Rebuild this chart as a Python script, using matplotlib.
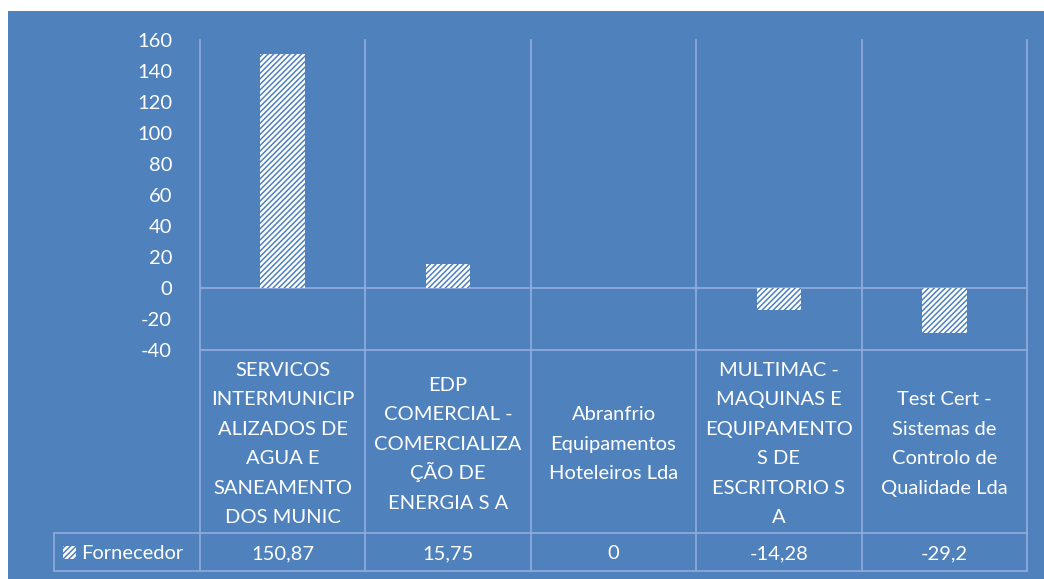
import matplotlib.pyplot as plt
from matplotlib.patches import Rectangle
from matplotlib.transforms import blended_transform_factory

categories = [
    "SERVICOS\nINTERMUNICIP\nALIZADOS DE\nAGUA E\nSANEAMENTO\nDOS MUNIC",
    "EDP\nCOMERCIAL -\nCOMERCIALIZA\nÇÃO DE\nENERGIA S A",
    "Abranfrio\nEquipamentos\nHoteleiros Lda",
    "MULTIMAC -\nMAQUINAS E\nEQUIPAMENTO\nS DE\nESCRITORIO S\nA",
    "Test Cert -\nSistemas de\nControlo de\nQualidade Lda",
]
values = [150.87, 15.75, 0, -14.28, -29.2]
series_name = "Fornecedor"
yticks = list(range(-40, 161, 20))

BG = "#4F81BD"
GRID = "#8EA9DB"
W, H = 1044, 579

plt.rcParams['font.family'] = ['Lato', 'DejaVu Sans']
plt.rcParams['hatch.linewidth'] = 1.1
plt.rcParams['hatch.color'] = BG

fig = plt.figure(figsize=(W / 100, H / 100), dpi=100, facecolor="white")
fig.patches.append(Rectangle((8 / W, 0), 1 - 8 / W, 1 - 11 / H, transform=fig.transFigure,
                             facecolor=BG, edgecolor="none", zorder=-10))

ax = fig.add_axes([200 / W, 1 - 350 / H, 827 / W, 310 / H])
ax.set_zorder(5)
ax.patch.set_alpha(0)
x = list(range(len(values)))
ax.bar(x, values, width=0.27, facecolor="white", edgecolor=BG, hatch="//////", linewidth=0, zorder=3)
ax.set_xlim(-0.5, len(values) - 0.5)
ax.set_ylim(-40, 160)
ax.set_yticks(yticks)
ax.set_yticklabels([str(t) for t in yticks], color="white", fontsize=14.5)
ax.tick_params(axis="y", length=0, pad=20)
ax.set_xticks([])
for s in ax.spines.values():
    s.set_visible(False)
ax.axhline(0, color=GRID, lw=1.3, zorder=2)

trans = blended_transform_factory(ax.transData, ax.transAxes)
px = 1 / 310
y_cat_bot = -183 * px
y_row_bot = -221 * px
x_left = (54 - 200) / 165.4 - 0.5

# vertical grid lines through plot and table
for b in [i - 0.5 for i in range(len(values) + 1)]:
    ax.plot([b, b], [y_row_bot, 1], transform=trans, color=GRID, lw=1.3, clip_on=False, zorder=1)
ax.plot([x_left, x_left], [y_row_bot, y_cat_bot], transform=trans, color=GRID, lw=1.3, clip_on=False)
# horizontal table lines
ax.plot([-0.5, len(values) - 0.5], [0, 0], transform=trans, color=GRID, lw=1.3, clip_on=False)
for yy in [y_cat_bot, y_row_bot]:
    ax.plot([x_left, len(values) - 0.5], [yy, yy], transform=trans, color=GRID, lw=1.3, clip_on=False)

# category labels, one line at a time so accents don't shift spacing
line_gap = 29.5
cat_center = -92.5
for i, c in enumerate(categories):
    lines = c.split("\n")
    n = len(lines)
    for k, ln in enumerate(lines):
        yb = cat_center - (k - (n - 1) / 2) * line_gap - 7.2
        ax.text(i, yb * px, ln, transform=trans, ha="center", va="baseline",
                color="white", fontsize=14.5)

row_mid = (y_cat_bot + y_row_bot) / 2
for i, v in enumerate(values):
    ax.text(i, row_mid - 7.2 * px, f"{v:g}".replace(".", ","), transform=trans,
            ha="center", va="baseline", color="white", fontsize=14.5)

# legend key
key_x = (63 - 200) / 165.4 - 0.5
key_w = 13 / 165.4
ax.add_patch(Rectangle((key_x, row_mid - 6.5 * px), key_w, 13 * px,
                       transform=trans, facecolor="white", edgecolor=BG, hatch="//////",
                       linewidth=0, clip_on=False))
ax.text((81 - 200) / 165.4 - 0.5, row_mid - 7.2 * px, series_name, transform=trans,
        ha="left", va="baseline", color="white", fontsize=14.5)

fig.savefig("out.png", dpi=100, facecolor="white")
